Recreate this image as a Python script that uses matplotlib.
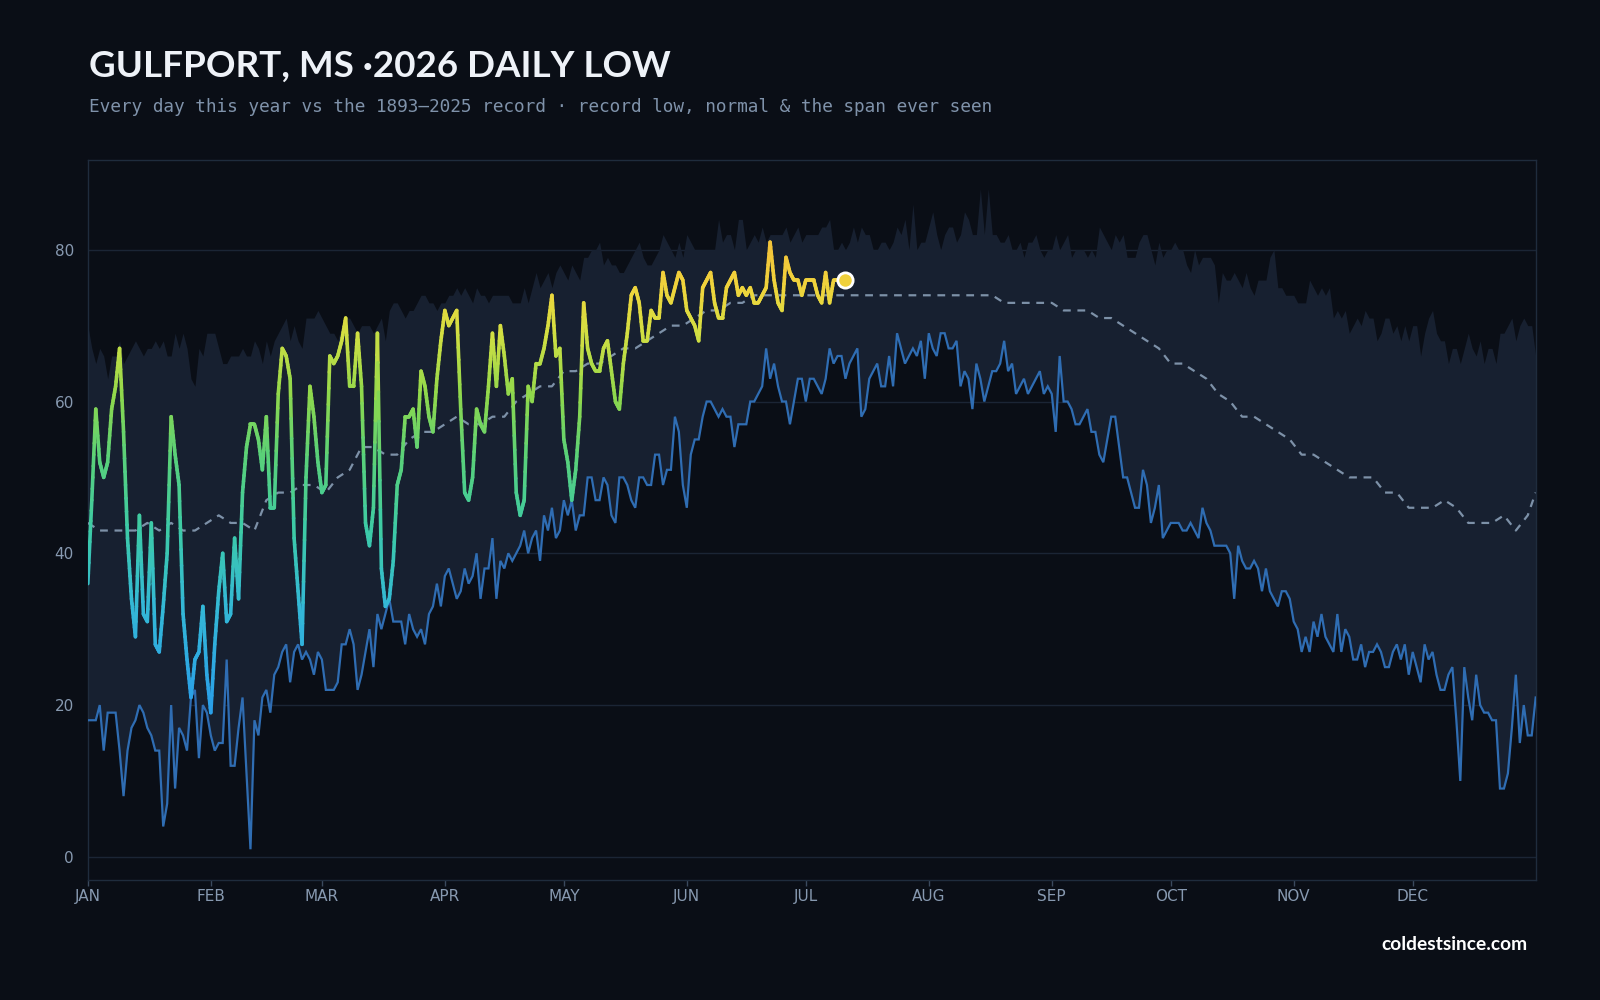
import numpy as np
import matplotlib
matplotlib.use("Agg")
import matplotlib.pyplot as plt
from matplotlib.collections import LineCollection
from matplotlib.colors import LinearSegmentedColormap, Normalize

# ---------------- text ----------------
TITLE = "GULFPORT, MS \u00b72026 DAILY LOW"
SUBTITLE = "Every day this year vs the 1893\u20132025 record \u00b7 record low, normal & the span ever seen"
FOOTER = "coldestsince.com"
MONTHS = ["JAN", "FEB", "MAR", "APR", "MAY", "JUN", "JUL", "AUG", "SEP", "OCT", "NOV", "DEC"]
MONTH_START_DAY = [0, 31, 59, 90, 120, 151, 181, 212, 243, 273, 304, 334]
Y_TICKS = [0, 20, 40, 60, 80]

# ---------------- data (deg F) ----------------
record_low = [
    18, 18, 18, 20, 14, 19, 19, 19, 14, 8, 14, 17, 18, 20, 19, 17, 16, 14, 14, 4,
    7, 20, 9, 17, 16, 14, 21, 22, 13, 20, 19, 16, 14, 15, 15, 26, 12, 12, 17, 21,
    11, 1, 18, 16, 21, 22, 19, 24, 25, 27, 28, 23, 27, 28, 26, 27, 26, 24, 27, 26,
    22,
    22, 22, 23, 28, 28, 30, 28, 22, 24, 27, 30, 25, 32, 30, 32, 34, 31, 31, 31, 28,
    32, 30, 29, 30, 28, 32, 33, 36, 33, 37, 38, 36,
    34, 35, 38, 36, 37, 40, 34, 38, 38, 42, 34, 39, 38, 40, 39, 40, 41, 43, 40, 42,
    43, 39, 45, 43, 46, 42, 43, 47, 45, 47, 43, 45, 45, 50,
    50, 47, 47, 50, 49, 45, 44, 50, 50, 49, 47, 46, 50, 50, 49, 49, 53, 53, 49, 51,
    51, 58, 56, 49, 46, 53, 55, 55, 58,
    60, 60, 59, 58, 59, 58, 58, 54, 57, 57, 57, 60, 60, 61, 62, 67, 63, 65, 62, 60,
    60, 57, 60, 63, 63, 60, 63, 63, 62, 61, 63, 67, 65, 66,
    66, 63, 65, 66, 67, 58, 59, 63, 64, 65, 62, 62, 66, 62, 69, 67, 65, 66, 67, 66,
    68, 63, 69, 67, 66, 69, 69, 67, 67, 68, 62, 64, 63, 59, 65, 63, 60, 62, 64, 64,
    65, 68, 64, 65,
    61, 62, 63, 61, 62, 63, 64, 61, 62, 61, 56, 66, 60, 60, 59, 57, 57, 58, 59, 56,
    56, 53, 52, 55, 58, 58, 54, 50, 50, 48, 46, 46, 51, 49, 44, 46, 49, 42, 43, 44,
    44, 44, 43, 43, 44, 43,
    42, 46, 44, 43, 41, 41, 41, 41, 40, 34, 41, 39, 38, 38, 39, 38, 35, 38, 35, 34,
    33, 35, 35, 34, 31, 30, 27, 29, 27, 31, 29, 32, 29, 28, 27, 32, 27, 30, 29, 26,
    26, 28,
    25, 27, 27, 28, 27, 25, 25, 27, 28, 26, 28, 24, 27, 25, 23, 28, 26, 27, 24, 22,
    22, 24, 25, 18, 10, 25, 21, 18, 24, 20, 19, 19, 18, 18, 9, 9, 11, 17, 24, 15,
    20, 16, 16, 21,
]

record_high = [
    70, 67, 65, 67, 66, 63, 66, 66, 68, 65, 66, 67, 68, 67, 66, 67, 67, 68, 67, 68,
    66, 66, 69, 67, 69, 67, 63, 62, 67, 66, 69, 69, 69,
    67, 65, 65, 66, 66, 66, 67, 66, 66, 68, 67, 65, 68, 66, 68, 69, 70, 71, 68, 70,
    68, 67, 71, 71, 71, 72, 71, 70, 69,
    69, 68, 70, 71, 71, 70, 69, 70, 70, 70, 69, 70, 71, 68, 72, 73, 73, 72, 71, 72,
    72, 73, 74, 74, 73, 73, 72, 73, 73, 74, 74,
    75, 74, 75, 74, 73, 75, 74, 74, 73, 74, 74, 74, 74, 74, 73, 73, 73, 75, 73, 75,
    77, 75, 76, 77, 75, 77, 78, 77, 76, 78, 77, 76, 79,
    79, 80, 80, 81, 78, 79, 78, 78, 77, 77, 78, 79, 80, 81, 79, 78, 78, 79, 80, 82,
    81, 80, 79, 81, 79, 82, 81, 80, 80, 80,
    80, 80, 80, 84, 81, 82, 82, 80, 84, 84, 80, 81, 82, 81, 83, 81, 82, 82, 82, 82,
    83, 81, 82, 83, 81, 82, 82, 82, 82, 83, 83, 84, 80, 80,
    81, 80, 81, 83, 81, 83, 82, 82, 80, 80, 81, 81, 80, 81, 83, 82, 84, 80, 86, 80,
    81, 81, 83, 85, 82, 80, 82, 83, 83, 81, 82, 85, 84, 82, 82, 88, 82, 88, 82, 82,
    81, 81, 82, 80,
    80, 81, 79, 81, 81, 82, 80, 79, 80, 80, 82, 80, 81, 82, 79, 80, 80, 80, 79, 80,
    79, 83, 82, 81, 80, 82, 81, 82, 79, 79, 79, 81, 82, 82, 80, 78, 81, 79, 80, 80,
    81, 80, 80, 78,
    77, 80, 78, 79, 79, 79, 78, 73, 77, 76, 76, 77, 76, 75, 77, 75, 74, 76, 76, 76,
    79, 80, 75, 75, 74, 74, 74, 73, 73, 73, 76, 75, 74, 75, 74, 75, 71, 72, 71, 72,
    69, 70, 71, 70,
    72, 71, 71, 68, 69, 71, 71, 69, 70, 68, 70, 68, 70, 70, 66, 69, 71, 72, 69, 68,
    68, 65, 67, 67, 65, 67, 69, 67, 66, 68, 65, 67, 67, 65, 69, 69, 70, 71, 68, 70,
    71, 70, 70, 66,
]

normal_days = list(range(0, 364, 3)) + [365]
normal_low = [
    44, 43, 43, 43, 43, 44, 43, 44, 43, 43, 44, 45, 44, 44, 43, 47, 48, 48, 49, 49,
    48, 50, 51, 54, 54, 53, 53, 55, 56, 56, 57, 58, 57, 57, 58, 58, 60, 61, 62, 62,
    64, 64, 65, 65, 66, 67, 67, 68, 69, 70, 70, 71, 72, 72, 73, 73, 74, 74, 74, 74,
    74, 74, 74, 74, 74, 74, 74, 74, 74, 74, 74, 74, 74, 74, 74, 74, 74, 73, 73, 73,
    73, 73, 72, 72, 72, 71, 71, 70, 69, 68, 67, 65, 65, 64, 63, 61, 60, 58, 58, 57,
    56, 55, 53, 53, 52, 51, 50, 50, 50, 48, 48, 46, 46, 46, 47, 46, 44, 44, 44, 45,
    43, 45, 48,
]

lows_2026 = [
    36, 47, 59, 52, 50, 52, 59, 62, 67, 56, 42, 34, 29, 45, 32, 31, 44, 28, 27, 33, 40,
    58, 53, 49, 32, 26, 21, 26, 27, 33, 24, 19, 28, 35, 40, 31, 32, 42, 34, 48, 54,
    57, 57, 55, 51, 58, 46, 46, 61, 67, 66, 63, 42, 35, 28, 50, 62, 58, 52, 48, 49,
    66, 65, 66, 68, 71, 62, 62, 69, 62, 44, 41, 46, 69, 38, 33, 34, 39, 49, 51, 58,
    58, 59, 54, 64, 62, 58, 56, 63, 68, 72, 70, 71, 72, 59, 48, 47, 50, 59, 57, 56,
    62, 69, 62, 70, 66, 61, 63, 48, 45, 47, 62, 60, 65, 65, 67, 70, 74, 66, 67, 55,
    52, 47, 51, 58, 73, 67, 65, 64, 64, 67, 68, 64, 60, 59, 65, 69, 74, 75, 73, 68,
    68, 72, 71, 71, 77, 74, 73, 75, 77, 76, 72, 71, 70, 68, 75, 76, 77, 73, 71, 71,
    75, 76, 77, 74, 75, 74, 75, 73, 73, 74, 75, 81, 76, 73, 72, 79, 77, 76, 76, 74,
    76, 76, 76, 74, 73, 77, 73, 76, 76, 76, 76,
]

# ---------------- style ----------------
BG = "#0a0e16"
BAND = "#172030"
GRID = "#1b2535"
SPINE = "#1f2c3d"
TICK_TXT = "#8799b0"
REC_LOW = "#2f6db3"
NORMAL = "#7d91a8"

temp_cmap = LinearSegmentedColormap.from_list(
    "temp",
    [(0.00, "#2a9fe8"), (0.22, "#34b9d6"), (0.38, "#3ccaa8"), (0.55, "#5ad178"),
     (0.68, "#8fd84c"), (0.82, "#d4df42"), (0.92, "#f0d43c"), (1.00, "#f2c43a")],
)
temp_norm = Normalize(vmin=20, vmax=80)

plt.rcParams["font.family"] = ["DejaVu Sans"]

fig = plt.figure(figsize=(16, 10), dpi=100, facecolor=BG)
ax = fig.add_axes([0.0549, 0.1204, 0.9049, 0.7194], facecolor=BG)

days = np.arange(len(record_low))
ax.fill_between(days, record_low, record_high, color=BAND, lw=0, zorder=1)
ax.plot(days, record_low, color=REC_LOW, lw=1.6, zorder=3, solid_joinstyle="miter")
ax.plot(normal_days, normal_low, color=NORMAL, lw=1.6, dashes=(3.5, 3), zorder=3)

# 2026 line, coloured by temperature (each segment split for a smooth gradient)
d26 = np.arange(len(lows_2026))
v26 = np.asarray(lows_2026, dtype=float)
sub = 8
segs, cols = [], []
for i in range(len(v26) - 1):
    t = np.linspace(0, 1, sub + 1)
    xs = d26[i] + t
    ys = v26[i] + (v26[i + 1] - v26[i]) * t
    for k in range(sub):
        segs.append([(xs[k], ys[k]), (xs[k + 1], ys[k + 1])])
        cols.append(temp_cmap(temp_norm(0.5 * (ys[k] + ys[k + 1]))))
lc = LineCollection(segs, colors=cols, linewidths=2.6, capstyle="round", joinstyle="round", zorder=4)
ax.add_collection(lc)
ax.plot([d26[-1]], [v26[-1]], "o", ms=11, mfc=temp_cmap(temp_norm(v26[-1])),
        mec="white", mew=2, zorder=5)

ax.set_xlim(0, 365)
ax.set_ylim(-3, 91.8)
ax.set_yticks(Y_TICKS)
ax.set_yticklabels([str(t) for t in Y_TICKS])
ax.set_xticks(MONTH_START_DAY)
ax.set_xticklabels(MONTHS)
ax.grid(axis="y", color=GRID, lw=1, zorder=0)
ax.set_axisbelow(True)
ax.tick_params(axis="y", length=0, pad=10, labelcolor=TICK_TXT, labelsize=11)
ax.tick_params(axis="x", length=4, width=1, color="#3b4a5e", pad=3, labelcolor=TICK_TXT, labelsize=11)
for s in ax.spines.values():
    s.set_color(SPINE)
    s.set_linewidth(1)

fig.text(0.0556, 0.9235, TITLE, family=["Lato", "DejaVu Sans"], fontweight="bold",
         fontsize=26.5, color="#eef2f8", va="baseline", ha="left")
fig.text(0.0556, 0.8875, SUBTITLE, family=["DejaVu Sans Mono"], fontsize=12.8,
         color="#7f92aa", va="baseline", ha="left")
fig.text(0.9548, 0.0505, FOOTER, family=["Lato", "DejaVu Sans"], fontweight="bold",
         fontsize=13.8, color="#ffffff", va="baseline", ha="right")

fig.savefig("out.png", dpi=100, facecolor=BG)
